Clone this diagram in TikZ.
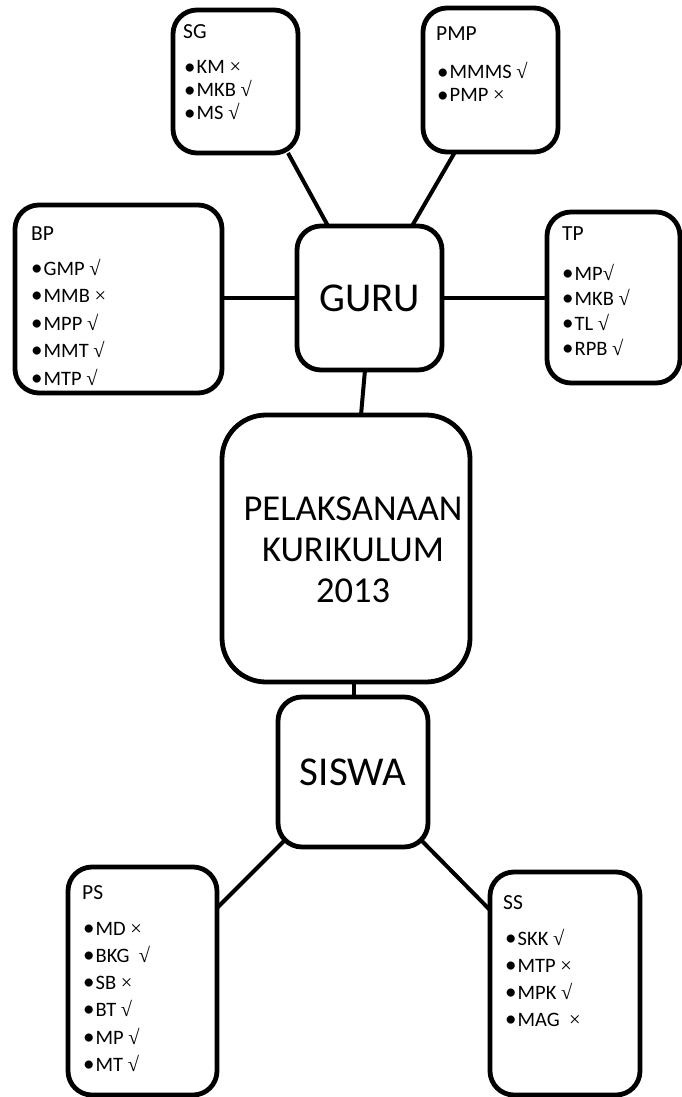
\documentclass[tikz,border=0pt]{standalone}
\usepackage{fontspec}
\setmainfont{Carlito}
\newfontfamily\markfont{Liberation Serif}
\newcommand{\yesmark}{{\markfont √}}
\newcommand{\nomark}{{\markfont ×}}
\newcommand{\bul}[1]{\makebox[12.5pt][l]{\raisebox{-0.4pt}{\fontsize{23}{24}\selectfont •}}#1}
\tikzset{
  box/.style={draw, line width=4.8pt, rounded corners=24pt, inner sep=0pt, outer sep=0pt},
  bigbox/.style={box, rounded corners=44pt},
  link/.style={line width=4pt},
  head/.style={anchor=base west, inner sep=0pt, font=\fontsize{21.5}{24}\selectfont},
  entry/.style={anchor=base west, inner sep=0pt, font=\fontsize{20.5}{24}\selectfont},
  hub/.style={inner sep=0pt, font=\fontsize{41}{48}\selectfont},
}
\begin{document}
\begin{tikzpicture}[x=1pt,y=-1pt]
\useasboundingbox (0,0) rectangle (682,1097);

% central boxes
\node[box, minimum width=145pt, minimum height=144pt, hub] (guru) at (369.5,298) {GURU};
\node[bigbox, minimum width=248pt, minimum height=267pt] (pk) at (346,548.5) {};
\node[align=center, inner sep=0pt, font=\fontsize{36.5}{41}\selectfont] (pktext) at (353,550) {PELAKSANAAN\\KURIKULUM\\2013};
\node[box, minimum width=150pt, minimum height=150pt, hub] (siswa) at (353,772) {SISWA};

% outer boxes
\node[box, minimum width=125pt, minimum height=143pt] (sg) at (235.5,81.5) {};
\node[box, minimum width=135pt, minimum height=144pt] (pmp) at (490.5,80) {};
\node[box, minimum width=207pt, minimum height=188pt] (bp) at (118.5,299) {};
\node[box, minimum width=133pt, minimum height=171pt] (tp) at (613.5,297.5) {};
\node[box, minimum width=149pt, minimum height=228pt] (ps) at (142.5,981) {};
\node[box, minimum width=150pt, minimum height=223pt] (ss) at (565,983.5) {};

% SG
\node[head] (sgh) at (183,39) {SG};
\node[entry] (sg1) at (184,74) {\bul{KM \nomark}};
\node[entry] (sg2) at (184,97) {\bul{MKB \yesmark}};
\node[entry] (sg3) at (184,120) {\bul{MS \yesmark}};

% PMP
\node[head] (pmph) at (436,41) {PMP};
\node[entry] (pmp1) at (437,79) {\bul{MMMS \yesmark}};
\node[entry] (pmp2) at (437,102) {\bul{PMP \nomark}};

% BP
\node[head] (bph) at (31,240) {BP};
\node[entry] (bp1) at (31,275) {\bul{GMP \yesmark}};
\node[entry] (bp2) at (31,302) {\bul{MMB \nomark}};
\node[entry] (bp3) at (31,330) {\bul{MPP \yesmark}};
\node[entry] (bp4) at (31,357) {\bul{MMT \yesmark}};
\node[entry] (bp5) at (31,385) {\bul{MTP \yesmark}};

% TP
\node[head] (tph) at (562,240) {TP};
\node[entry] (tp1) at (562,280) {\bul{MP\yesmark}};
\node[entry] (tp2) at (562,305) {\bul{MKB \yesmark}};
\node[entry] (tp3) at (562,330) {\bul{TL \yesmark}};
\node[entry] (tp4) at (562,355) {\bul{RPB \yesmark}};

% PS
\node[head] (psh) at (82,899) {PS};
\node[entry] (ps1) at (83,935) {\bul{MD \nomark}};
\node[entry] (ps2) at (83,962) {\bul{BKG\ \ \yesmark}};
\node[entry] (ps3) at (83,989) {\bul{SB \nomark}};
\node[entry] (ps4) at (83,1016) {\bul{BT \yesmark}};
\node[entry] (ps5) at (83,1044) {\bul{MP \yesmark}};
\node[entry] (ps6) at (83,1071) {\bul{MT \yesmark}};

% SS
\node[head] (ssh) at (503,909) {SS};
\node[entry] (ss1) at (505,945) {\bul{SKK \yesmark}};
\node[entry] (ss2) at (505,972) {\bul{MTP \nomark}};
\node[entry] (ss3) at (505,999) {\bul{MPK \yesmark}};
\node[entry] (ss4) at (505,1026) {\bul{MAG\ \ \nomark}};

% connectors
\draw[link] ([xshift=52.5pt]sg.south) -- ([xshift=-41.5pt]guru.north);
\draw[link] ([xshift=-35.5pt]pmp.south) -- ([xshift=42.5pt]guru.north);
\draw[link] (guru.west) -- (guru.west -| bp.east);
\draw[link] (guru.east) -- (guru.east -| tp.west);
\draw[link] ([xshift=-4.5pt]guru.south) -- ([xshift=15pt]pk.north);
\draw[link] ([xshift=1pt]siswa.north) -- ([xshift=1pt]siswa.north |- pk.south);
\draw[link] ([shift={(6,-6)}]siswa.south west) -- ([yshift=-41pt]ps.north east);
\draw[link] ([shift={(-6,-6)}]siswa.south east) -- ([yshift=-38pt]ss.north west);
\end{tikzpicture}
\end{document}
